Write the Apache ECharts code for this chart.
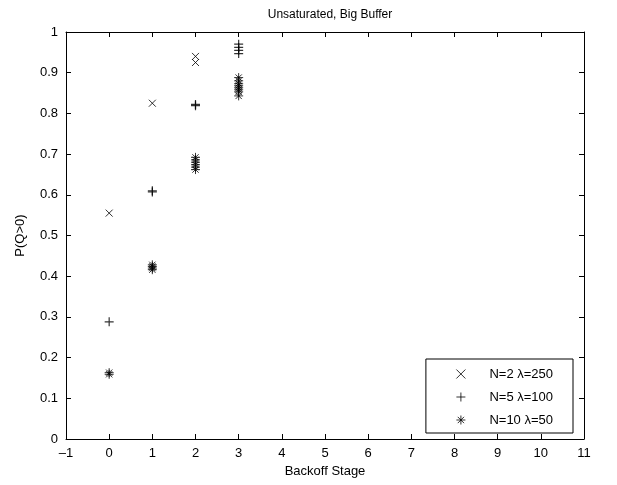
<!DOCTYPE html>
<html><head><meta charset="utf-8">
<script src="https://cdn.jsdelivr.net/npm/echarts@6/dist/echarts.min.js"></script>
<style>html,body{margin:0;padding:0;background:#fff}#c{width:617px;height:485px}</style>
</head><body><div id="c"></div>
<script>
// Data: [backoff stage, P(Q>0)]
const seriesNames = ['N=2 λ=250', 'N=5 λ=100', 'N=10 λ=50'];
const n2Data = [[0,0.555],[1,0.825],[2,0.925],[2,0.94]];
const n5Data = [[0,0.288],[1,0.607],[1,0.61],[2,0.819],[2,0.822],[3,0.947],[3,0.955],[3,0.962],[3,0.97]];
const n10Data = [[0,0.159],[0,0.163],[1,0.416],[1,0.42],[1,0.424],[1,0.428],[2,0.662],[2,0.668],[2,0.674],[2,0.68],[2,0.686],[2,0.692],
  [3,0.843],[3,0.853],[3,0.858],[3,0.863],[3,0.868],[3,0.873],[3,0.88],[3,0.888]];
const xMin = -1, xMax = 11, xStep = 1;
const yMin = 0, yMax = 1, yStep = 0.1;

const font = 'Liberation Sans, Arial, Helvetica, sans-serif';
const crossPath = 'path://M0,0L10,10M10,0L0,10';
const plusPath = 'path://M5,0L5,10M0,5L10,5';
const starPath = 'path://M5,0L5,10M0,5L10,5M1.5,1.5L8.5,8.5M8.5,1.5L1.5,8.5';

function axisCommon(show) {
  return {
    axisLine: {show: true, onZero: false, lineStyle: {color: '#000', width: 1}},
    axisTick: {show: true, inside: true, length: 5, lineStyle: {color: '#000'}},
    axisLabel: {show: show, color: '#000', fontSize: 13, fontFamily: font,
      formatter: v => String(v).replace('-', '\u2013')},
    splitLine: {show: false}
  };
}
const chart = echarts.init(document.getElementById('c'));
chart.setOption({
  animation: false,
  backgroundColor: '#fff',
  title: {text: 'Unsaturated, Big Buffer', left: 325, top: 4, textAlign: 'center',
    textStyle: {fontSize: 12, fontWeight: 'normal', color: '#000', fontFamily: font}},
  grid: {left: 66, right: 33, top: 32, bottom: 46},
  xAxis: [
    Object.assign({type: 'value', min: xMin, max: xMax, interval: xStep, position: 'bottom',
      name: 'Backoff Stage', nameLocation: 'middle', nameGap: 26,
      nameTextStyle: {fontSize: 13, color: '#000', fontFamily: font}}, axisCommon(true)),
    Object.assign({type: 'value', min: xMin, max: xMax, interval: xStep, position: 'top'}, axisCommon(false))
  ],
  yAxis: [
    Object.assign({type: 'value', min: yMin, max: yMax, interval: yStep, position: 'left',
      name: 'P(Q>0)', nameLocation: 'middle', nameGap: 39,
      nameTextStyle: {fontSize: 13, color: '#000', fontFamily: font}}, axisCommon(true)),
    Object.assign({type: 'value', min: yMin, max: yMax, interval: yStep, position: 'right'}, axisCommon(false))
  ],
  legend: {
    orient: 'vertical', right: 44, bottom: 52,
    backgroundColor: '#fff', borderColor: '#000', borderWidth: 1, borderRadius: 0,
    padding: [8, 20, 6, 28], itemGap: 9, itemWidth: 9, itemHeight: 9,
    itemStyle: {borderWidth: 1},
    textStyle: {fontSize: 13, color: '#000', fontFamily: font, padding: [0, 0, 0, 19]},
    data: seriesNames
  },
  series: [
    {name: seriesNames[0], type: 'scatter', data: n2Data, symbol: crossPath, symbolSize: 7,
      itemStyle: {color: 'none', borderColor: '#000', borderWidth: 1}},
    {name: seriesNames[1], type: 'scatter', data: n5Data, symbol: plusPath, symbolSize: 9,
      itemStyle: {color: 'none', borderColor: '#000', borderWidth: 1.2}},
    {name: seriesNames[2], type: 'scatter', data: n10Data, symbol: starPath, symbolSize: 9,
      itemStyle: {color: 'none', borderColor: '#000', borderWidth: 1}}
  ]
});
</script></body></html>
